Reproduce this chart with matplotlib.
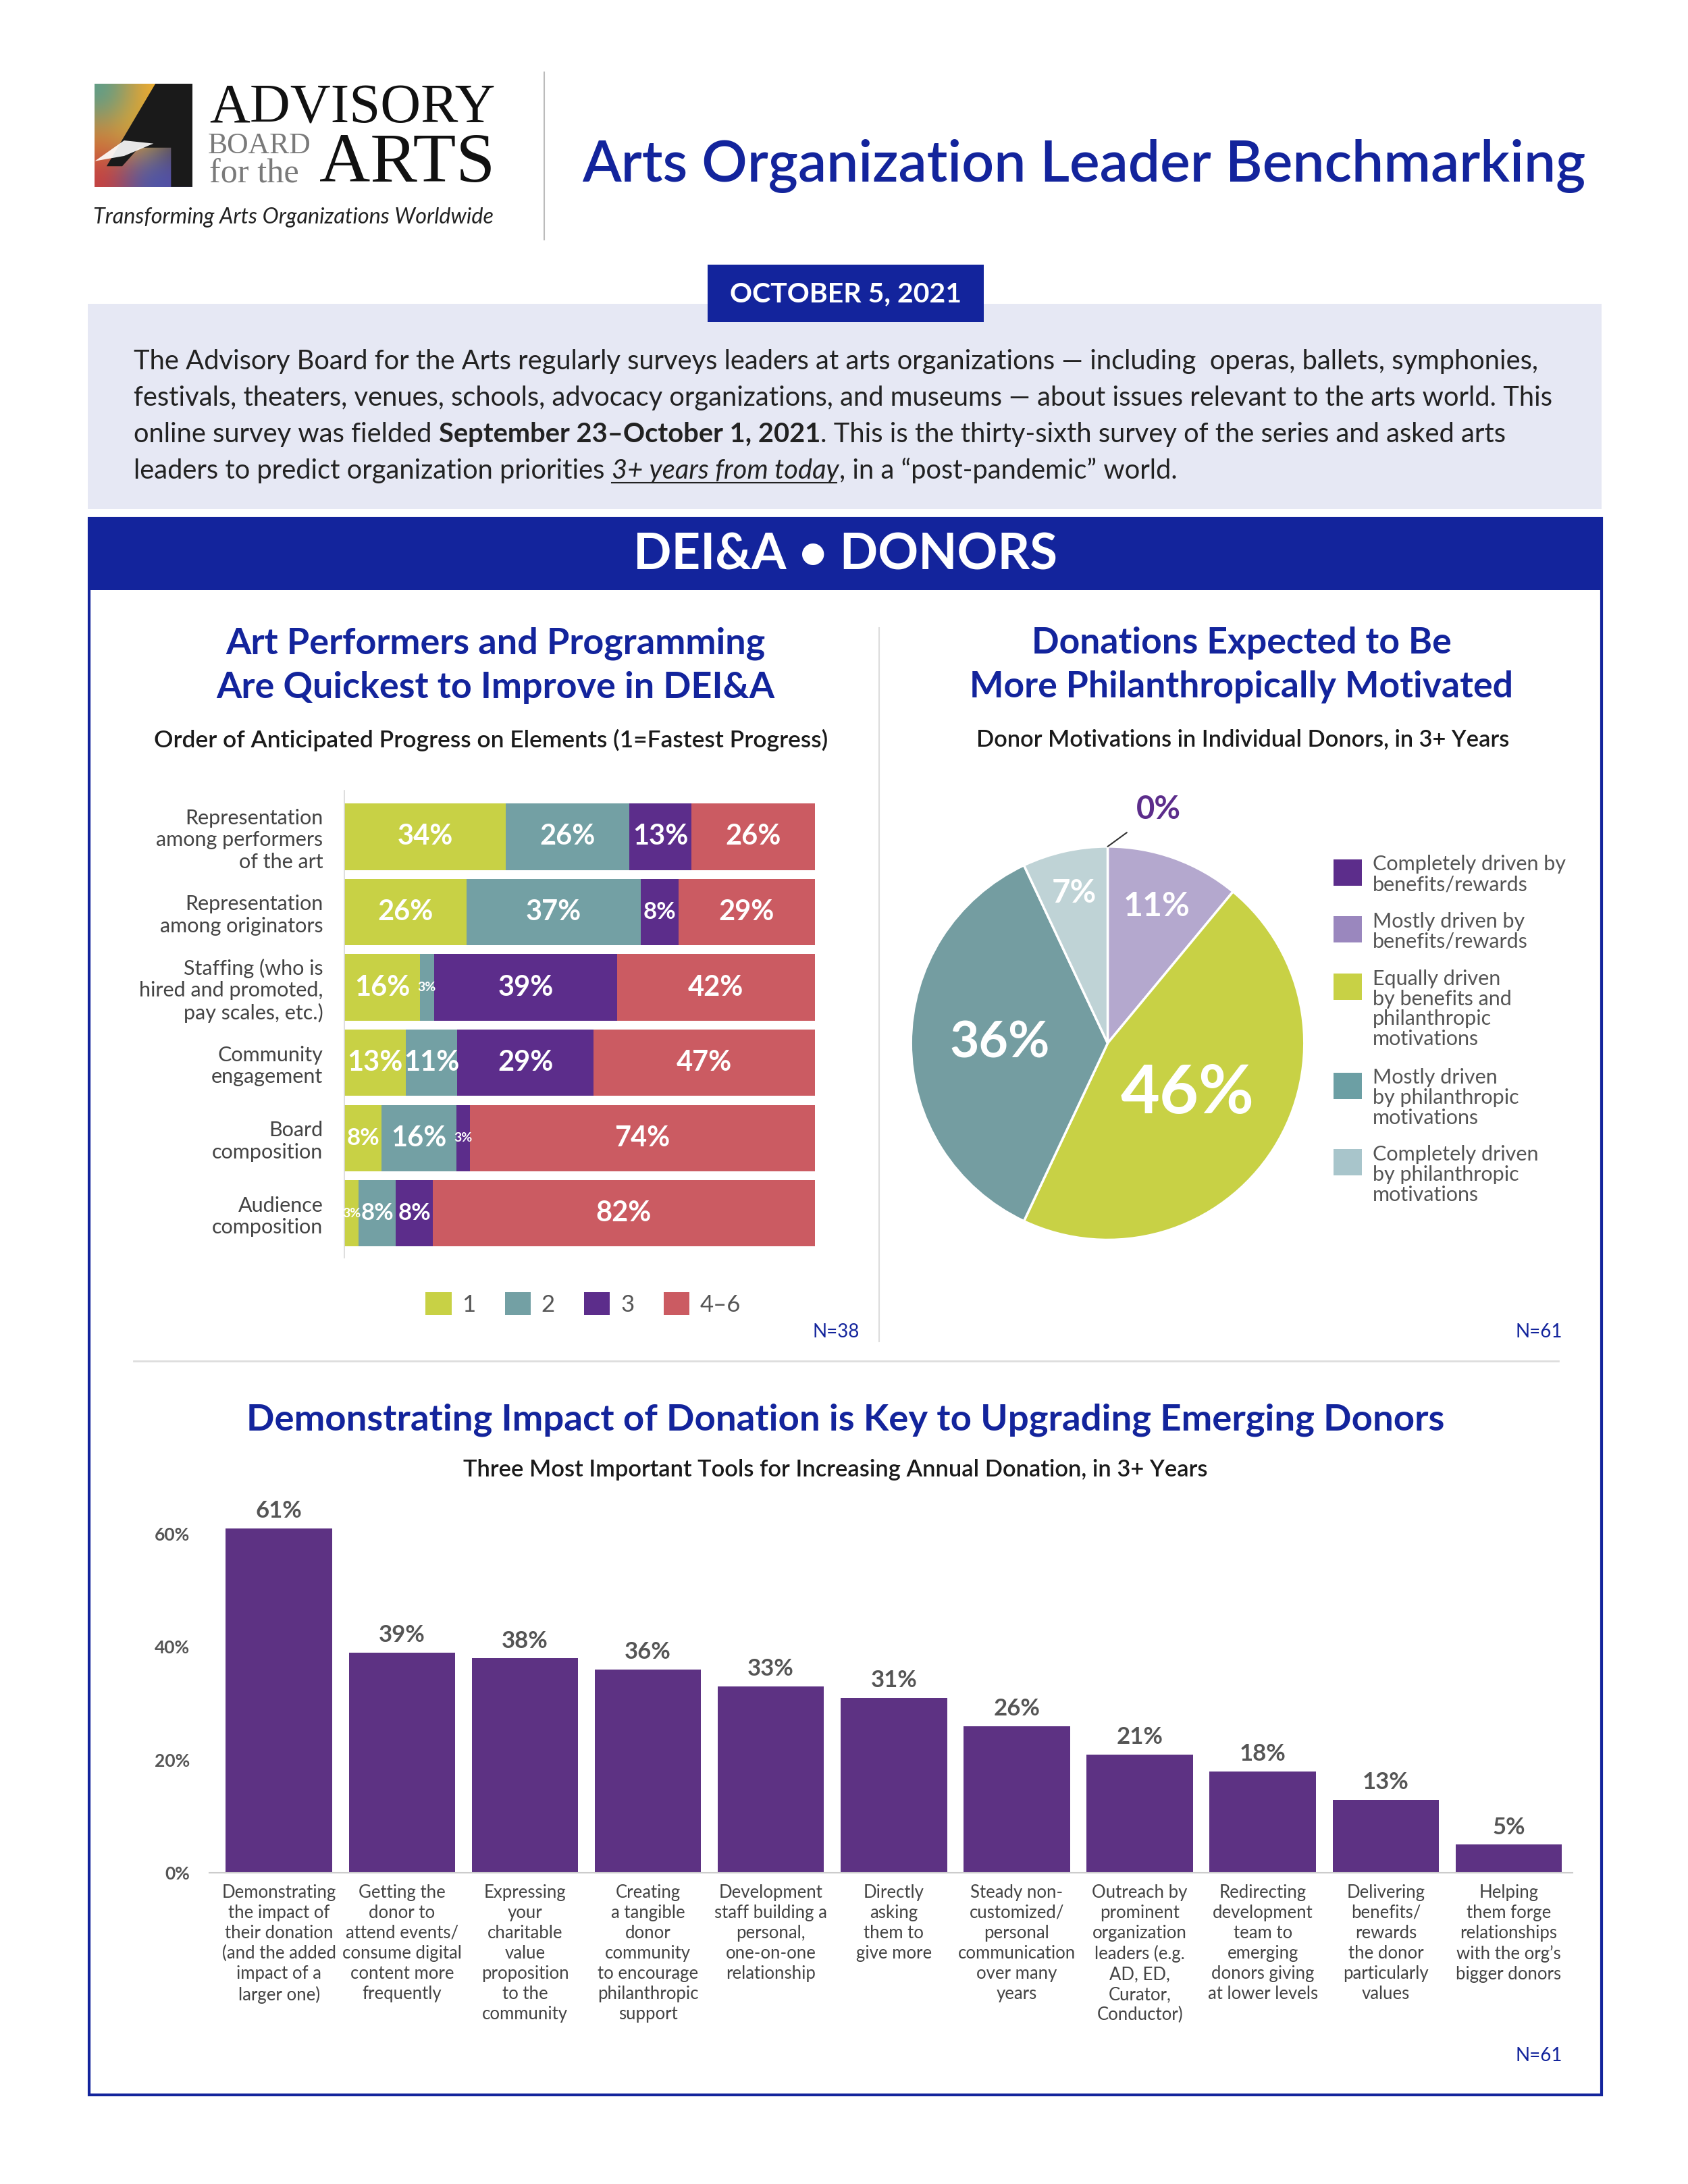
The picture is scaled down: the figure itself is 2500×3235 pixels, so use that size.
import matplotlib
matplotlib.use('Agg')
import matplotlib.pyplot as plt
import numpy as np
from matplotlib.patches import Rectangle, Polygon, Patch
from matplotlib.lines import Line2D

# ---------------- data ----------------
rank_categories = ["Representation\namong performers\nof the art",
                   "Representation\namong originators",
                   "Staffing (who is\nhired and promoted,\npay scales, etc.)",
                   "Community\nengagement",
                   "Board\ncomposition",
                   "Audience\ncomposition"]
rank_labels = ["1", "2", "3", "4–6"]
rank_1 = [34, 26, 16, 13, 8, 3]
rank_2 = [26, 37, 3, 11, 16, 8]
rank_3 = [13, 8, 39, 29, 3, 8]
rank_4_6 = [26, 29, 42, 47, 74, 82]

pie_labels = ["Completely driven by\nbenefits/rewards",
              "Mostly driven by\nbenefits/rewards",
              "Equally driven\nby benefits and\nphilanthropic\nmotivations",
              "Mostly driven\nby philanthropic\nmotivations",
              "Completely driven\nby philanthropic\nmotivations"]
pie_values = [0, 11, 46, 36, 7]

tool_labels = ["Demonstrating\nthe impact of\ntheir donation\n(and the added\nimpact of a\nlarger one)",
               "Getting the\ndonor to\nattend events/\nconsume digital\ncontent more\nfrequently",
               "Expressing\nyour\ncharitable\nvalue\nproposition\nto the\ncommunity",
               "Creating\na tangible\ndonor\ncommunity\nto encourage\nphilanthropic\nsupport",
               "Development\nstaff building a\npersonal,\none-on-one\nrelationship",
               "Directly\nasking\nthem to\ngive more",
               "Steady non-\ncustomized/\npersonal\ncommunication\nover many\nyears",
               "Outreach by\nprominent\norganization\nleaders (e.g.\nAD, ED,\nCurator,\nConductor)",
               "Redirecting\ndevelopment\nteam to\nemerging\ndonors giving\nat lower levels",
               "Delivering\nbenefits/\nrewards\nthe donor\nparticularly\nvalues",
               "Helping\nthem forge\nrelationships\nwith the org’s\nbigger donors"]
tool_values = [61, 39, 38, 36, 33, 31, 26, 21, 18, 13, 5]
tool_ticks = [0, 20, 40, 60]

n_left, n_right, n_bottom = "N=38", "N=61", "N=61"

# ---------------- style ----------------
BLUE = '#13249C'
GREEN = '#C8D145'
TEAL = '#73A0A4'
PURPLE = '#5C2D8B'
RED = '#CB5B62'
BAR_PURPLE = '#5D3283'
rank_colors = [GREEN, TEAL, PURPLE, RED]
pie_colors = [PURPLE, '#B4A8CE', '#C8D145', '#749DA1', '#BFD3D6']
pie_legend_colors = [PURPLE, '#9A87BE', '#C8D145', '#6C9FA4', '#A8C5CB']

W, H = 2500, 3235
DW, DH = 1210.0, 1566.0
S = W / DW


def fx(x):
    return x / DW


def fy(y):
    return 1 - y / DH


plt.rcParams['font.family'] = ['Lato', 'DejaVu Sans']

fig = plt.figure(figsize=(W / 100, H / 100), dpi=100)
fig.patch.set_facecolor('white')
renderer = fig.canvas.get_renderer()


def width_px(t):
    return t.get_window_extent(renderer=renderer).width


def fit(t, target_disp):
    w = width_px(t)
    t.set_fontsize(t.get_fontsize() * target_disp * S / w)
    return t


def measure(text, **kw):
    t = fig.text(0, 0, text + 'x', **kw)
    t2 = fig.text(0, 0, 'x', **kw)
    w = width_px(t) - width_px(t2)
    t.remove()
    t2.remove()
    return w


# ---------------- header ----------------
# logo picture
axl = fig.add_axes([fx(68), fy(134), 70 / DW, 74 / DH])
grid = np.array([[[0.35, 0.62, 0.55], [0.93, 0.62, 0.18], [0.98, 0.80, 0.20]],
                 [[0.85, 0.55, 0.20], [0.95, 0.75, 0.15], [0.20, 0.20, 0.20]],
                 [[0.78, 0.25, 0.25], [0.25, 0.35, 0.70], [0.35, 0.30, 0.65]]])
axl.imshow(grid, interpolation='bicubic', extent=(0, 1, 0, 1), aspect='auto')
axl.add_patch(Polygon([(0.62, 1.0), (1.0, 1.0), (1.0, 0.0), (0.78, 0.0), (0.78, 0.38),
                       (0.45, 0.38), (0.28, 0.20), (0.12, 0.20)],
                      closed=True, facecolor='#1a1a1a', edgecolor='none'))
axl.add_patch(Polygon([(0.0, 0.25), (0.3, 0.45), (0.6, 0.42), (0.3, 0.30)],
                      closed=True, facecolor='white', edgecolor='none', alpha=0.9))
axl.set_xlim(0, 1)
axl.set_ylim(0, 1)
axl.axis('off')

t = fig.text(fx(150), fy(88), "ADVISORY", family=['Liberation Serif'], fontsize=50,
             color='#111111', va='baseline')
fit(t, 205)
t = fig.text(fx(149), fy(110), "BOARD", family=['Liberation Serif'], fontsize=20,
             color='#7a7a7a', va='baseline')
fit(t, 74)
t = fig.text(fx(150), fy(131), "for the", family=['Liberation Serif'], fontsize=20,
             color='#7a7a7a', va='baseline')
fit(t, 64)
t = fig.text(fx(229), fy(130), "ARTS", family=['Liberation Serif'], fontsize=50,
             color='#111111', va='baseline')
fit(t, 126)
t = fig.text(fx(67), fy(160), "Transforming Arts Organizations Worldwide", fontsize=18,
             style='italic', color='#222222', va='baseline')
fit(t, 287)

fig.add_artist(Line2D([fx(390), fx(390)], [fy(52), fy(172)], color='#bbbbbb', lw=1.5,
                      transform=fig.transFigure))

t = fig.text(fx(777), fy(130), "Arts Organization Leader Benchmarking", fontsize=60,
             color=BLUE, ha='center', va='baseline', weight='semibold')
fit(t, 721)

# lavender intro box
fig.add_artist(Rectangle((fx(63), fy(365)), (1148 - 63) / DW, (365 - 218) / DH,
                         transform=fig.transFigure, facecolor='#E6E8F4', edgecolor='none'))
# date box
fig.add_artist(Rectangle((fx(507), fy(231)), (705 - 507) / DW, (231 - 190) / DH,
                         transform=fig.transFigure, facecolor=BLUE, edgecolor='none'))
t = fig.text(fx(606), fy(211), "OCTOBER 5, 2021", fontsize=20, color='white',
             weight='bold', ha='center', va='center')
fit(t, 166)

# intro text
intro_size = 24
probe = fig.text(0, 0, "The Advisory Board for the Arts regularly surveys leaders at arts organizations — including  operas, ballets, symphonies,",
                 fontsize=intro_size)
intro_size = intro_size * 1008 * S / width_px(probe)
probe.remove()

intro_lines = [
    [("The Advisory Board for the Arts regularly surveys leaders at arts organizations — including  operas, ballets, symphonies,", {}, False)],
    [("festivals, theaters, venues, schools, advocacy organizations, and museums — about issues relevant to the arts world. This", {}, False)],
    [("online survey was fielded ", {}, False), ("September 23–October 1, 2021", {'weight': 'bold'}, False),
     (". This is the thirty-sixth survey of the series and asked arts", {}, False)],
    [("leaders to predict organization priorities ", {}, False), ("3+ years from today", {'style': 'italic'}, True),
     (", in a “post-pandemic” world.", {}, False)],
]
baselines = [265, 291, 317, 343]
for segs, yb in zip(intro_lines, baselines):
    xpix = 96 * S
    for text, kw, ul in segs:
        fig.text(xpix / W, fy(yb), text, fontsize=intro_size, color='#222222',
                 va='baseline', ha='left', **kw)
        adv = measure(text, fontsize=intro_size, **kw)
        if ul:
            fig.add_artist(Line2D([xpix / W, (xpix + adv - 4) / W], [fy(yb + 3), fy(yb + 3)],
                                  color='#222222', lw=1.5, transform=fig.transFigure))
        xpix += adv

# banner + frame
fig.add_artist(Rectangle((fx(63), fy(423)), (1148 - 63) / DW, (423 - 372) / DH,
                         transform=fig.transFigure, facecolor=BLUE, edgecolor='none'))
fig.add_artist(Rectangle((fx(64), fy(1502)), (1148 - 64) / DW, (1502 - 372) / DH,
                         transform=fig.transFigure, facecolor='none', edgecolor=BLUE, lw=3))
t = fig.text(fx(606), fy(398), "DEI&A • DONORS", fontsize=44, color='white', weight='bold',
             ha='center', va='center')
fit(t, 304)

fig.add_artist(Line2D([fx(630), fx(630)], [fy(450), fy(962)], color='#dddddd', lw=1.5,
                      transform=fig.transFigure))
fig.add_artist(Line2D([fx(96), fx(1117)], [fy(976), fy(976)], color='#dddddd', lw=2,
                      transform=fig.transFigure))

# ---------------- left panel: stacked bars ----------------
t = fig.text(fx(355), fy(477), "Art Performers and Programming\nAre Quickest to Improve in DEI&A",
             fontsize=38, color=BLUE, weight='bold', ha='center', va='center', linespacing=1.4)
fit(t, 401)
t = fig.text(fx(352), fy(531), "Order of Anticipated Progress on Elements (1=Fastest Progress)",
             fontsize=22, color='#1a1a1a', weight='semibold', ha='center', va='center')
fit(t, 482)

ax1 = fig.add_axes([fx(247), fy(902), (584 - 247) / DW, (902 - 567) / DH])
series = np.array([rank_1, rank_2, rank_3, rank_4_6], dtype=float)
totals = series.sum(axis=0)
shares = series / totals * 100
ypos = np.arange(len(rank_categories))
left = np.zeros(len(rank_categories))
for k in range(4):
    bars = ax1.barh(ypos, shares[k], left=left, height=0.88, color=rank_colors[k],
                    edgecolor='none', label=rank_labels[k])
    for i, b in enumerate(bars):
        v = series[k][i]
        fs = 30 if v >= 10 else (25 if v >= 5 else 14)
        ax1.text(b.get_x() + b.get_width() / 2, b.get_y() + b.get_height() / 2,
                 f"{int(v)}%", color='white', weight='bold', fontsize=fs,
                 ha='center', va='center')
    left += shares[k]
ax1.set_xlim(0, 100)
ax1.set_ylim(5.593, -0.611)
ax1.set_yticks(ypos)
ax1.set_yticklabels(rank_categories, fontsize=22, color='#444444', linespacing=1.2)
ax1.tick_params(axis='y', length=0, pad=23)
ax1.set_xticks([])
for s in ['top', 'right', 'bottom']:
    ax1.spines[s].set_visible(False)
ax1.spines['left'].set_color('#d8d8d8')
ax1.spines['left'].set_linewidth(1.2)

handles = [Patch(facecolor=c, edgecolor='none') for c in rank_colors]
leg = fig.legend(handles, rank_labels, loc='center', bbox_to_anchor=(fx(418), fy(935)),
                 ncol=4, frameon=False, fontsize=25, handlelength=1.1, handleheight=1.1,
                 columnspacing=1.25, handletextpad=0.45)
for tx in leg.get_texts():
    tx.set_color('#555555')

fig.text(fx(616), fy(955), n_left, fontsize=20, color=BLUE, ha='right', va='center')

# ---------------- right panel: pie ----------------
t = fig.text(fx(890), fy(477), "Donations Expected to Be\nMore Philanthropically Motivated",
             fontsize=38, color=BLUE, weight='bold', ha='center', va='center', linespacing=1.4)
fit(t, 390)
t = fig.text(fx(891), fy(530), "Donor Motivations in Individual Donors, in 3+ Years",
             fontsize=22, color='#1a1a1a', weight='semibold', ha='center', va='center')
fit(t, 382)

ax2 = fig.add_axes([fx(653), fy(889), 282 / DW, 282 / DH])
wedges, _ = ax2.pie(pie_values, colors=pie_colors, startangle=90, counterclock=False,
                    wedgeprops=dict(edgecolor='white', linewidth=2.5))
ax2.set_xlim(-1, 1)
ax2.set_ylim(-1, 1)
ax2.set_aspect('equal')
label_r = [None, 0.74, 0.48, 0.55, 0.78]
label_fs = [None, 36, 72, 54, 34]
for i, w in enumerate(wedges):
    ang = np.deg2rad((w.theta1 + w.theta2) / 2)
    if pie_values[i] == 0:
        ax2.annotate(f"{pie_values[i]}%", xy=(np.cos(ang), np.sin(ang)),
                     xytext=(0.26, 1.19), textcoords='data', fontsize=34, weight='bold',
                     color=PURPLE, ha='center', va='center', annotation_clip=False,
                     arrowprops=dict(arrowstyle='-', color='#333333', lw=1.5,
                                     shrinkA=12, shrinkB=0))
    else:
        ax2.text(label_r[i] * np.cos(ang), label_r[i] * np.sin(ang), f"{pie_values[i]}%",
                 fontsize=label_fs[i], weight='bold', color='white', ha='center', va='center')

leg_tops = [616, 657, 698, 769, 824]
for lab, c, yt in zip(pie_labels, pie_legend_colors, leg_tops):
    fig.add_artist(Rectangle((fx(956), fy(yt + 19)), 20 / DW, 19 / DH,
                             transform=fig.transFigure, facecolor=c, edgecolor='none'))
    fig.text(fx(984), fy(yt - 3), lab, fontsize=22, color='#555555', ha='left', va='top',
             linespacing=1.08)

fig.text(fx(1120), fy(955), n_right, fontsize=20, color=BLUE, ha='right', va='center')

# ---------------- bottom: bars ----------------
t = fig.text(fx(606), fy(1018),
             "Demonstrating Impact of Donation is Key to Upgrading Emerging Donors",
             fontsize=36, color=BLUE, weight='bold', ha='center', va='center')
fit(t, 856)
t = fig.text(fx(599), fy(1054),
             "Three Most Important Tools for Increasing Annual Donation, in 3+ Years",
             fontsize=22, color='#1a1a1a', weight='semibold', ha='center', va='center')
fit(t, 532)

ax3 = fig.add_axes([fx(150), fy(1343), (1127 - 150) / DW, (1343 - 1080) / DH])
xpos = np.arange(len(tool_values))
bars = ax3.bar(xpos, tool_values, width=0.865, color=BAR_PURPLE, edgecolor='none')
ax3.bar_label(bars, labels=[f"{v}%" for v in tool_values], padding=7, fontsize=25,
              weight='bold', color='#555555')
ax3.set_xlim(-0.567, 10.516)
ax3.set_ylim(0, 64.9)
ax3.set_yticks(tool_ticks)
ax3.set_yticklabels([f"{v}%" for v in tool_ticks], fontsize=19, weight='bold', color='#555555')
ax3.tick_params(axis='y', length=0, pad=21)
ax3.set_xticks(xpos)
ax3.set_xticklabels(tool_labels, fontsize=18.5, color='#444444', linespacing=1.25)
ax3.tick_params(axis='x', length=0, pad=12)
for s in ['top', 'right', 'left']:
    ax3.spines[s].set_visible(False)
ax3.spines['bottom'].set_color('#cccccc')
ax3.spines['bottom'].set_linewidth(1.5)
for lab in ax3.get_xticklabels():
    lab.set_multialignment('center')

fig.text(fx(1120), fy(1474), n_bottom, fontsize=20, color=BLUE, ha='right', va='center')

fig.savefig('out.png', dpi=100, facecolor='white')
